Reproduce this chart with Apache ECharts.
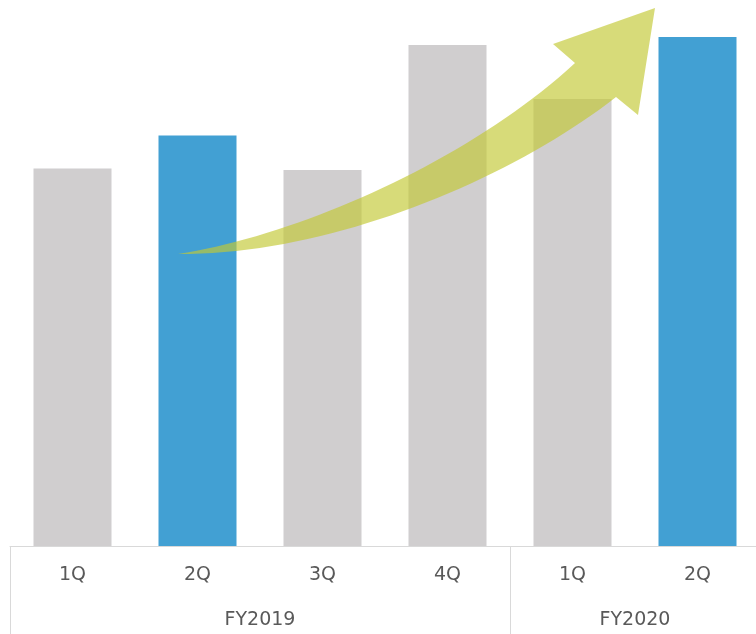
<!DOCTYPE html>
<html>
<head>
<meta charset="utf-8">
<script src="https://cdn.jsdelivr.net/npm/echarts@6/dist/echarts.min.js"></script>
<style>
  html, body { margin: 0; padding: 0; background: #ffffff; overflow: hidden; }
  #chart { width: 760px; height: 634px; }
</style>
</head>
<body>
<div id="chart"></div>
<script>
// Quarterly results, FY2019 – FY2020
const quarters = ['1Q', '2Q', '3Q', '4Q', '1Q', '2Q'];
const values = [377.5, 410.5, 376, 501, 447, 509];
const highlighted = [false, true, false, false, false, true];
const fiscalYears = ['FY2019', 'FY2020'];
const yearSpans = [[0, 4], [4, 6]];   // quarter index ranges of each fiscal year

const grey = '#d0cecf';
const blue = '#42a0d3';
const axisGrey = '#d9d9d9';
const textGrey = '#595959';

const chart = echarts.init(document.getElementById('chart'));

const yearMid = yearSpans.map(s => (s[0] + s[1]) / 2);
const yearEdges = yearSpans.map(s => s[0]);

// Outline of the rising trend arrow: two cubic curves for the body plus the head
function cubic(p0, p1, p2, p3, n) {
  const pts = [];
  for (let i = 0; i <= n; i++) {
    const t = i / n, u = 1 - t;
    const a = u * u * u, b = 3 * u * u * t, c = 3 * u * t * t, d = t * t * t;
    pts.push([
      a * p0[0] + b * p1[0] + c * p2[0] + d * p3[0],
      a * p0[1] + b * p1[1] + c * p2[1] + d * p3[1]
    ]);
  }
  return pts;
}
const arrowPoints = []
  .concat(cubic([178, 254], [300, 235], [470, 160], [575, 63], 40))
  .concat([[553, 44], [655, 8], [638, 115]])
  .concat(cubic([616, 97], [510, 180], [330, 255], [178, 254], 40));

chart.setOption({
  animation: false,
  grid: { left: 10, right: 0, top: 0, bottom: 88 },
  xAxis: [
    {
      type: 'category',
      data: quarters,
      axisLine: { show: true, lineStyle: { color: axisGrey, width: 1 } },
      axisTick: { show: false },
      axisLabel: {
        color: textGrey,
        fontFamily: 'DejaVu Sans',
        fontSize: 19,
        margin: 20
      }
    },
    {
      type: 'value',
      position: 'bottom',
      min: 0,
      max: quarters.length,
      axisLine: { show: false },
      splitLine: { show: false },
      axisTick: {
        show: true,
        customValues: yearEdges,
        length: 88,
        lineStyle: { color: axisGrey, width: 1 }
      },
      axisLabel: {
        customValues: yearMid,
        formatter: v => fiscalYears[yearMid.indexOf(v)] || '',
        color: textGrey,
        fontFamily: 'DejaVu Sans',
        fontSize: 19,
        margin: 65
      }
    }
  ],
  yAxis: {
    type: 'value',
    min: 0,
    max: 546,
    show: false
  },
  series: [
    {
      type: 'bar',
      xAxisIndex: 0,
      barWidth: 78,
      data: values.map((v, i) => ({
        value: v,
        itemStyle: { color: highlighted[i] ? blue : grey }
      }))
    }
  ],
  graphic: [
    {
      type: 'polygon',
      z: 100,
      shape: { points: arrowPoints },
      style: { fill: 'rgba(194,201,52,0.66)' }
    }
  ]
});
</script>
</body>
</html>
